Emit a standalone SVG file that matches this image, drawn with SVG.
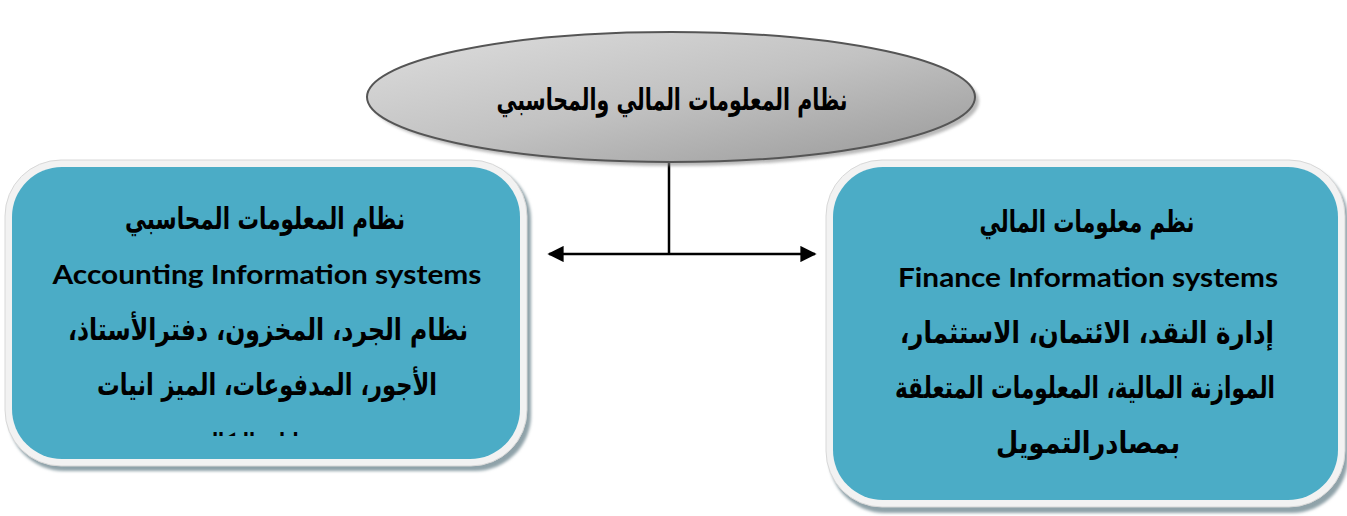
<svg xmlns="http://www.w3.org/2000/svg" width="1347" height="516" viewBox="0 0 1347 516">
  <defs>
    <linearGradient id="ovalFill" x1="0" y1="0" x2="1" y2="1">
      <stop offset="0" stop-color="#dedede"/>
      <stop offset="0.5" stop-color="#c2c2c2"/>
      <stop offset="1" stop-color="#989898"/>
    </linearGradient>
    <filter id="soft" x="-5%" y="-5%" width="110%" height="110%">
      <feGaussianBlur stdDeviation="1.5"/>
    </filter>
    <marker id="arrow" viewBox="0 0 10 10" refX="9" refY="5" markerWidth="6.5" markerHeight="6.5" orient="auto-start-reverse" markerUnits="strokeWidth">
      <path d="M0,0 L10,5 L0,10 z" fill="#000"/>
    </marker>
    <clipPath id="leftClip">
      <rect x="12" y="167" width="508" height="269"/>
    </clipPath>
    <style>
      .shadow { fill: #8fa2a9; }
      .frame { fill: #f2f2f2; stroke: #d8d8d8; stroke-width: 1; }
      .panel { fill: #4bacc6; }
      .ar { font-family: "DejaVu Sans", "Noto Sans", sans-serif; font-weight: bold; font-size: 30px; fill: #000; text-anchor: middle; direction: rtl; }
      .en { font-family: Lato, "Open Sans", "Liberation Sans", sans-serif; font-weight: bold; font-size: 26px; fill: #000; text-anchor: middle; }
      .link { stroke: #000; stroke-width: 2.5; fill: none; }
    </style>
  </defs>

  <!-- connectors -->
  <g id="connectors">
    <line class="link" x1="669" y1="161" x2="669" y2="254"/>
    <line class="link" x1="549" y1="254" x2="815" y2="254" marker-start="url(#arrow)" marker-end="url(#arrow)"/>
  </g>

  <!-- top oval -->
  <g id="node-root">
    <ellipse cx="675" cy="101" rx="304" ry="65" fill="#8a8a8a" opacity="0.6" filter="url(#soft)"/>
    <ellipse cx="671" cy="97" rx="304" ry="65" fill="url(#ovalFill)" stroke="#555" stroke-width="2"/>
    <text class="ar" x="672" y="110" textLength="351" lengthAdjust="spacingAndGlyphs">نظام المعلومات المالي والمحاسبي</text>
  </g>

  <!-- left panel: accounting -->
  <g id="node-accounting">
    <rect class="shadow" x="8" y="164" width="523" height="307" rx="56" filter="url(#soft)"/>
    <rect class="frame" x="5" y="160" width="522" height="306" rx="56"/>
    <rect class="panel" x="12" y="167" width="508" height="292" rx="50"/>
    <text class="ar" x="265" y="229" textLength="280" lengthAdjust="spacingAndGlyphs">نظام المعلومات المحاسبي</text>
    <text class="en" x="267" y="284" textLength="429" lengthAdjust="spacingAndGlyphs">Accounting Information systems</text>
    <text class="ar" x="268" y="340" textLength="400" lengthAdjust="spacingAndGlyphs">نظام الجرد، المخزون، دفترالأستاذ،</text>
    <text class="ar" x="267" y="395" textLength="340" lengthAdjust="spacingAndGlyphs">الأجور، المدفوعات، الميز انيات</text>
    <g clip-path="url(#leftClip)">
      <text class="ar" x="248" y="455" textLength="130" lengthAdjust="spacingAndGlyphs">بيانات التكاليف</text>
    </g>
  </g>

  <!-- right panel: finance -->
  <g id="node-finance">
    <rect class="shadow" x="829" y="164" width="519" height="349" rx="56" filter="url(#soft)"/>
    <rect class="frame" x="826" y="160" width="519" height="347" rx="56"/>
    <rect class="panel" x="833" y="167" width="505" height="333" rx="50"/>
    <text class="ar" x="1087" y="232" textLength="215" lengthAdjust="spacingAndGlyphs">نظم معلومات المالي</text>
    <text class="en" x="1088" y="287" textLength="380" lengthAdjust="spacingAndGlyphs">Finance Information systems</text>
    <text class="ar" x="1087" y="343" textLength="374" lengthAdjust="spacingAndGlyphs">إدارة النقد، الائتمان، الاستثمار،</text>
    <text class="ar" x="1085" y="398" textLength="380" lengthAdjust="spacingAndGlyphs">الموازنة المالية، المعلومات المتعلقة</text>
    <text class="ar" x="1088" y="453" textLength="184" lengthAdjust="spacingAndGlyphs">بمصادرالتمويل</text>
  </g>
</svg>
